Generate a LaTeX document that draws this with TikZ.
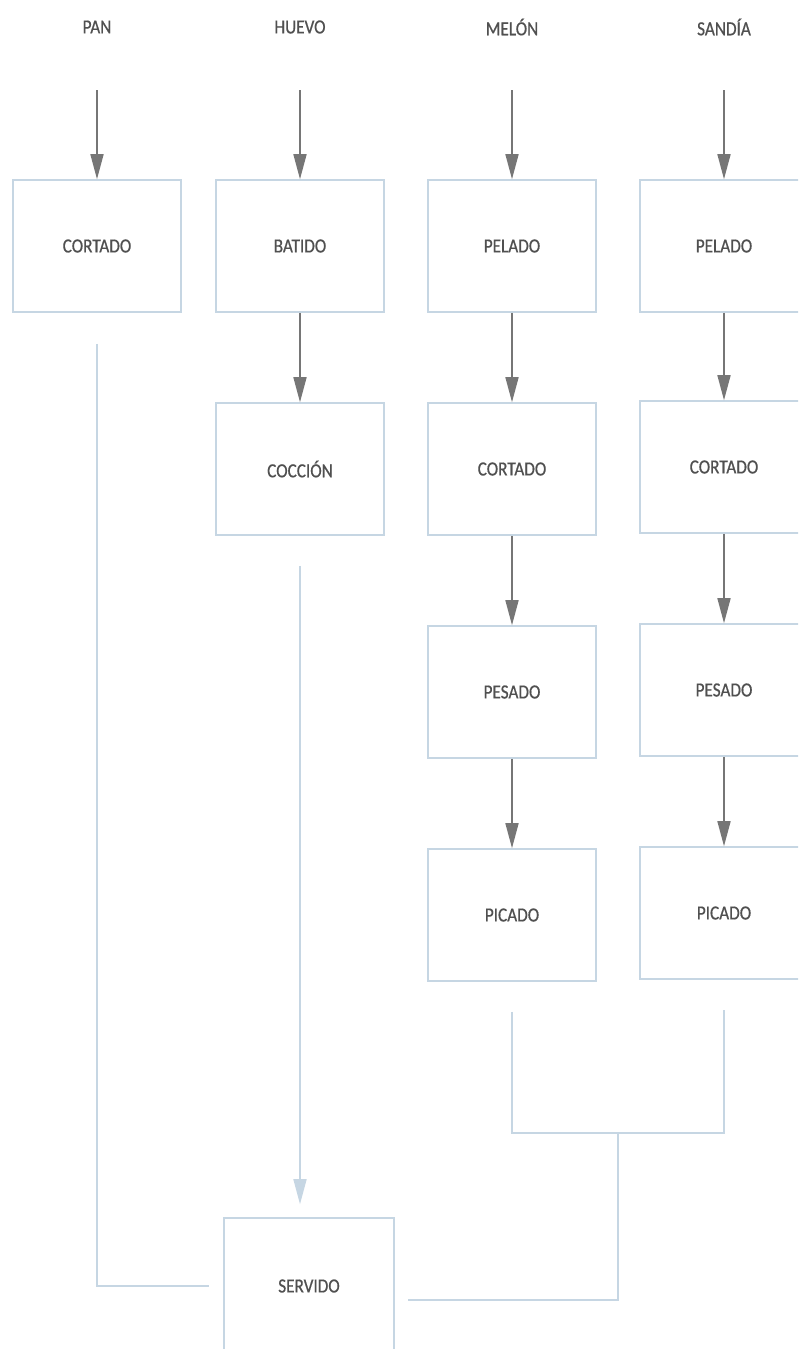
\documentclass[tikz,border=0pt]{standalone}
\usepackage{fontspec}
\setmainfont{Carlito}[FakeStretch=0.86,FakeBold=0.6]
\usepackage{tikz}
\usetikzlibrary{arrows.meta}
\definecolor{boxline}{HTML}{C6D6E3}
\definecolor{flowgray}{HTML}{767676}
\definecolor{labelgray}{HTML}{505050}
\tikzstyle{title}=[text=labelgray,font=\fontsize{20}{23}\selectfont]
\tikzstyle{stage}=[draw=boxline,line width=1.6pt,fill=white,minimum width=168pt,minimum height=132pt,text=labelgray,font=\fontsize{20}{23}\selectfont]
\tikzstyle{flow}=[draw=flowgray,line width=1.6pt,-{Triangle[length=25pt,width=13pt]}]
\tikzstyle{link}=[draw=boxline,line width=1.6pt]

\begin{document}
\begin{tikzpicture}[x=1pt,y=-1pt]
                  \clip (0,0) rectangle (798,1349);
                  \fill [white] (0,0) rectangle (798,1349);

                  \node (pan) at (97,27) [title] {PAN};
                  \node (huevo) at (300,27) [title] {HUEVO};
                  \node (melon) at (512,27) [title] {MELÓN};
                  \node (sandia) at (724,27) [title] {SANDÍA};

                  \coordinate (in1) at (97,90);
                  \coordinate (in2) at (300,90);
                  \coordinate (in3) at (512,90);
                  \coordinate (in4) at (724,90);

                  \node (cortado1) at (97,246) [stage] {CORTADO};

                  \node (batido) at (300,246) [stage] {BATIDO};
                  \node (coccion) at (300,469) [stage] {COCCIÓN};

                  \node (pelado3) at (512,246) [stage] {PELADO};
                  \node (cortado3) at (512,469) [stage] {CORTADO};
                  \node (pesado3) at (512,692) [stage] {PESADO};
                  \node (picado3) at (512,915) [stage] {PICADO};

                  \node (pelado4) at (724,246) [stage] {PELADO};
                  \node (cortado4) at (724,467) [stage] {CORTADO};
                  \node (pesado4) at (724,690) [stage] {PESADO};
                  \node (picado4) at (724,913) [stage] {PICADO};

                  \node (servido) at (309,1286) [stage,minimum width=170pt,minimum height=136pt] {SERVIDO};

                  \draw [flow] (in1) -- (cortado1);
                  \draw [flow] (in2) -- (batido);
                  \draw [flow] (in3) -- (pelado3);
                  \draw [flow] (in4) -- (pelado4);

                  \draw [flow] (batido) -- (coccion);

                  \draw [flow] (pelado3) -- (cortado3);
                  \draw [flow] (cortado3) -- (pesado3);
                  \draw [flow] (pesado3) -- (picado3);

                  \draw [flow] (pelado4) -- (cortado4);
                  \draw [flow] (cortado4) -- (pesado4);
                  \draw [flow] (pesado4) -- (picado4);

                  \coordinate (join) at (618,1133);

                  \draw [link,shorten <=31pt,shorten >=14pt] (cortado1.south) |- (servido.west);
                  \draw [link,-{Triangle[length=25pt,width=13pt]},shorten <=30pt,shorten >=13pt] (coccion.south) -- (coccion.south |- servido.north);
                  \draw [link,shorten <=30pt,shorten >=30pt] (picado3.south) |- (join) -| (picado4.south);
                  \draw [link,shorten >=13pt] (join) |- ([yshift=-14pt]servido.east);
              \end{tikzpicture}
\end{document}
